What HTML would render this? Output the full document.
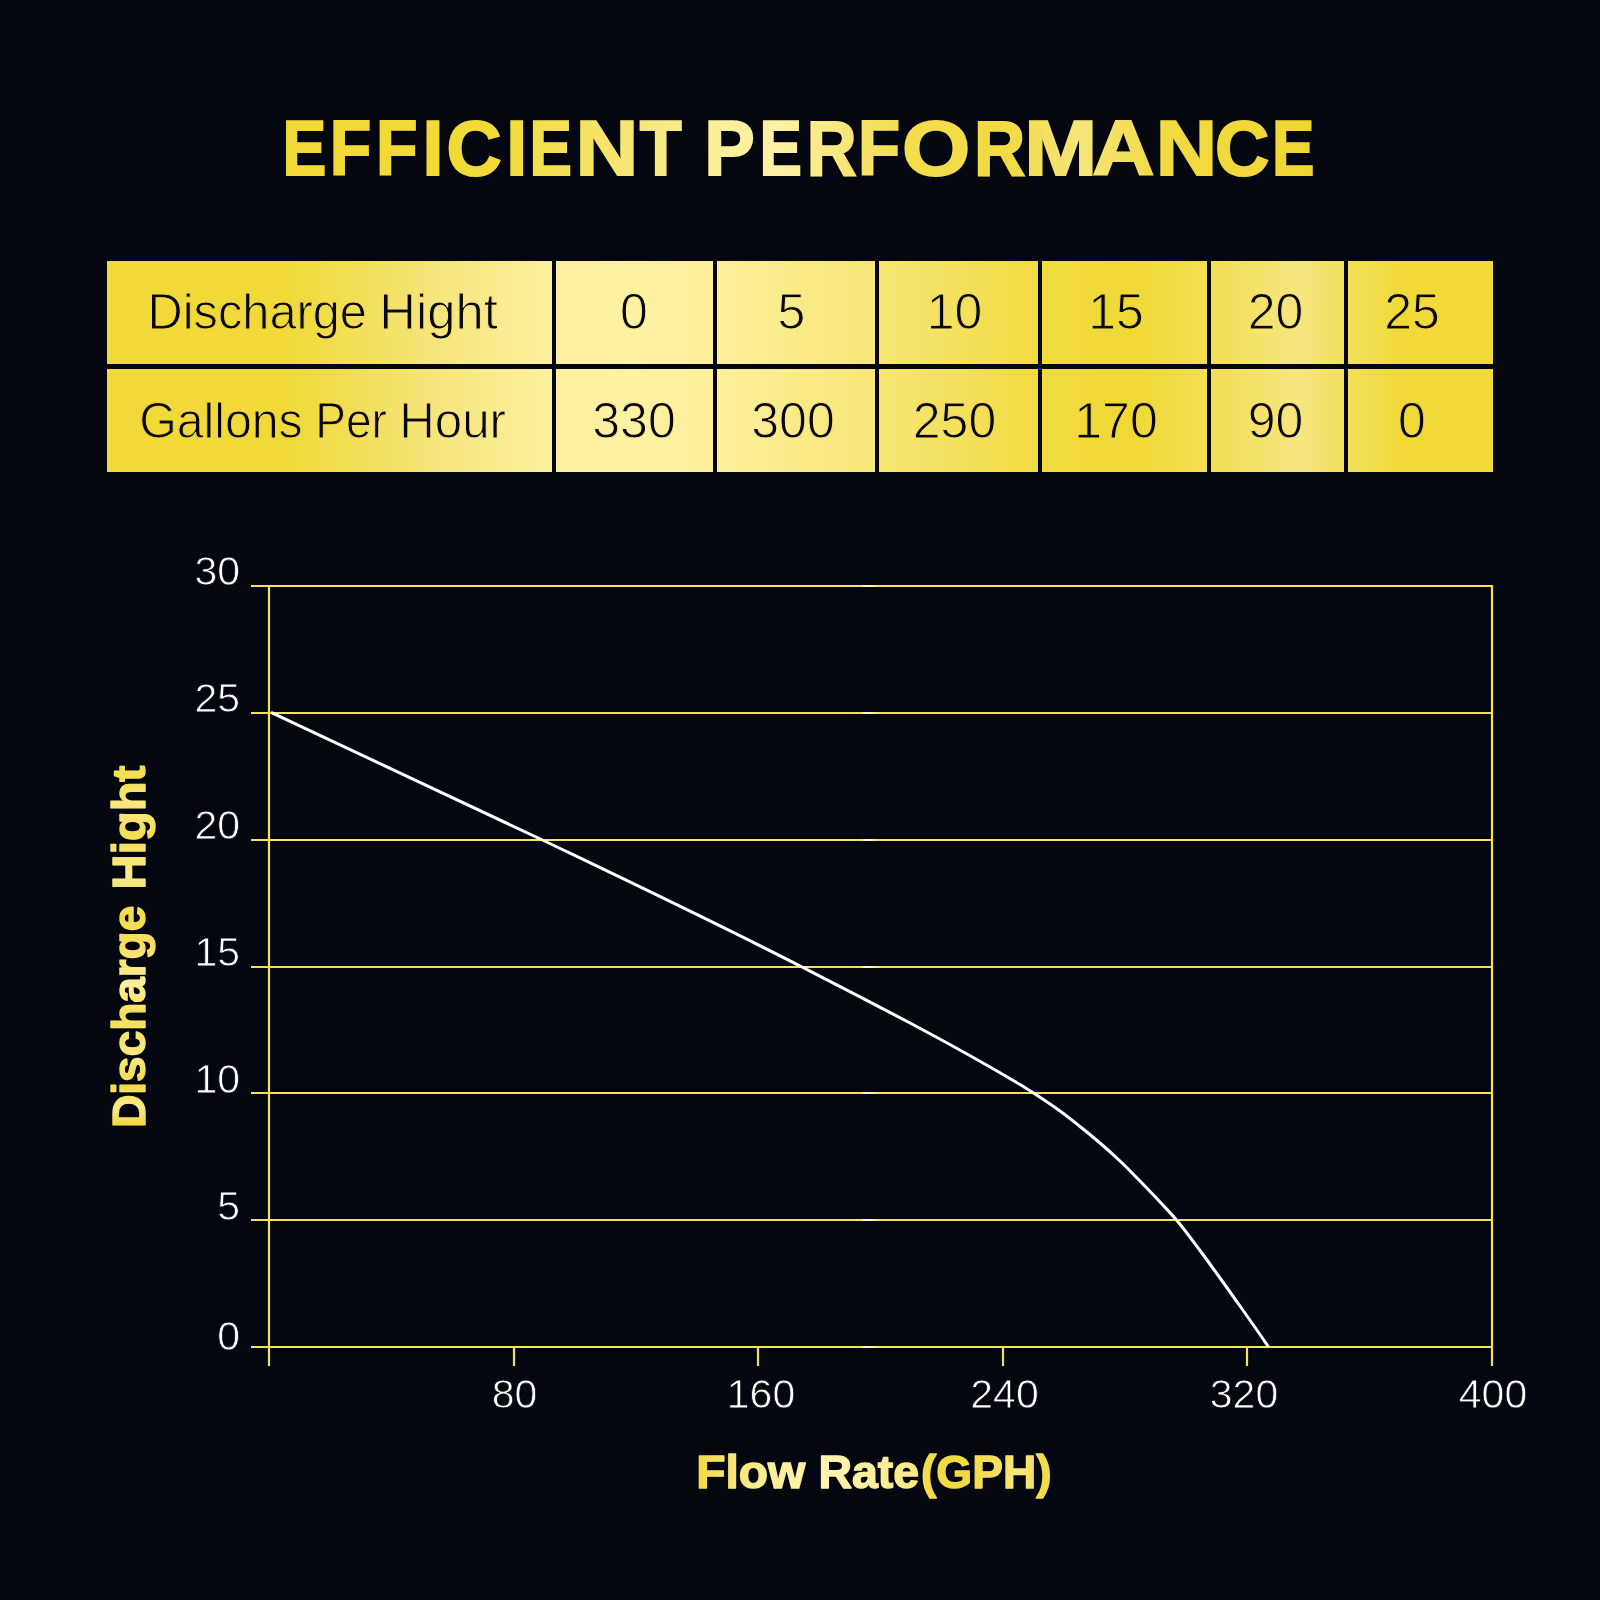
<!DOCTYPE html>
<html lang="en">
<head>
<meta charset="utf-8">
<title>Efficient Performance</title>
<style>
  html, body { margin: 0; padding: 0; background: #04070f; }
  body { width: 1600px; height: 1600px; overflow: hidden; }
  svg { display: block; will-change: transform; }
  text { font-family: "Liberation Sans", sans-serif; }
  .title { font-weight: bold; font-size: 78.5px; stroke-width: 2px; stroke-linejoin: miter; }
  .cell { font-size: 50px; fill: #08080c; text-anchor: middle; stroke: url(#gTable); stroke-width: 1px; }
  .lbl { text-anchor: start; }
  .tick { font-size: 41px; fill: #ffffff; stroke: #04070f; stroke-width: 0.8px; }
  .axis { font-weight: bold; font-size: 46px; stroke-width: 1.4px; stroke-linejoin: round; }
</style>
</head>
<body>
<svg width="1600" height="1600" viewBox="0 0 1600 1600">
  <defs>
    <!-- title gradient -->
    <linearGradient id="gTitle" gradientUnits="userSpaceOnUse" x1="285" y1="0" x2="1314" y2="0">
      <stop offset="0" stop-color="#f1d936"/>
      <stop offset="0.20" stop-color="#f1d936"/>
      <stop offset="0.41" stop-color="#fbee98"/>
      <stop offset="0.48" stop-color="#fdf2a6"/>
      <stop offset="0.60" stop-color="#f3dd4e"/>
      <stop offset="0.70" stop-color="#f2da42"/>
      <stop offset="0.775" stop-color="#f6e57c"/>
      <stop offset="0.85" stop-color="#f2da42"/>
      <stop offset="1" stop-color="#f0d630"/>
    </linearGradient>
    <!-- table gradient -->
    <linearGradient id="gTable" gradientUnits="userSpaceOnUse" x1="107" y1="0" x2="1493" y2="0">
      <stop offset="0" stop-color="#f0d938"/>
      <stop offset="0.13" stop-color="#f0d938"/>
      <stop offset="0.235" stop-color="#f6e57a"/>
      <stop offset="0.32" stop-color="#fcf0a0"/>
      <stop offset="0.385" stop-color="#fdf1a2"/>
      <stop offset="0.445" stop-color="#fcef9a"/>
      <stop offset="0.555" stop-color="#f7e676"/>
      <stop offset="0.62" stop-color="#f4e05a"/>
      <stop offset="0.675" stop-color="#f1da3e"/>
      <stop offset="0.74" stop-color="#f0d835"/>
      <stop offset="0.795" stop-color="#f3de54"/>
      <stop offset="0.86" stop-color="#f6e680"/>
      <stop offset="0.895" stop-color="#f3df5a"/>
      <stop offset="0.935" stop-color="#f0d938"/>
      <stop offset="1" stop-color="#f0d938"/>
    </linearGradient>
    <!-- gridline gradient with tiny highlight -->
    <linearGradient id="gLine" gradientUnits="userSpaceOnUse" x1="251" y1="0" x2="1493" y2="0">
      <stop offset="0" stop-color="#f4e15a"/>
      <stop offset="0.4915" stop-color="#f4e15a"/>
      <stop offset="0.4940" stop-color="#fff8d6"/>
      <stop offset="0.4990" stop-color="#fdf3b8"/>
      <stop offset="0.5060" stop-color="#f4e15a"/>
      <stop offset="1" stop-color="#f4e15a"/>
    </linearGradient>
    <!-- x axis title gradient -->
    <linearGradient id="gFlow" gradientUnits="userSpaceOnUse" x1="698" y1="0" x2="1051" y2="0">
      <stop offset="0" stop-color="#f2da40"/>
      <stop offset="0.09" stop-color="#f6e474"/>
      <stop offset="0.20" stop-color="#fbee98"/>
      <stop offset="0.37" stop-color="#fdf3b0"/>
      <stop offset="0.52" stop-color="#fbee98"/>
      <stop offset="0.615" stop-color="#f9e985"/>
      <stop offset="0.645" stop-color="#f3dc4a"/>
      <stop offset="0.74" stop-color="#f2da40"/>
      <stop offset="0.83" stop-color="#f4df5a"/>
      <stop offset="0.915" stop-color="#f7e77e"/>
      <stop offset="0.975" stop-color="#f2db48"/>
      <stop offset="1" stop-color="#f2db48"/>
    </linearGradient>
    <!-- y axis title gradient (applied in rotated space: along text direction) -->
    <linearGradient id="gDis" gradientUnits="userSpaceOnUse" x1="-180" y1="0" x2="180" y2="0">
      <stop offset="0" stop-color="#f2d93c"/>
      <stop offset="0.055" stop-color="#f9ea88"/>
      <stop offset="0.11" stop-color="#f3dc48"/>
      <stop offset="0.195" stop-color="#f8e884"/>
      <stop offset="0.305" stop-color="#f4df58"/>
      <stop offset="0.39" stop-color="#fbee98"/>
      <stop offset="0.50" stop-color="#f5e064"/>
      <stop offset="0.585" stop-color="#f3dc4a"/>
      <stop offset="0.695" stop-color="#f9ea8a"/>
      <stop offset="0.805" stop-color="#f4de55"/>
      <stop offset="0.89" stop-color="#f8e780"/>
      <stop offset="1" stop-color="#f3dc48"/>
    </linearGradient>
  </defs>

  <rect x="0" y="0" width="1600" height="1600" fill="#04070f"/>

  <!-- TITLE -->
  <text class="title" aria-label="EFFICIENT PERFORMANCE" y="175" fill="url(#gTitle)" stroke="url(#gTitle)"><tspan x="282.4" textLength="43.8" lengthAdjust="spacingAndGlyphs">E</tspan><tspan x="329.8" textLength="41.5" lengthAdjust="spacingAndGlyphs">F</tspan><tspan x="376.0" textLength="41.5" lengthAdjust="spacingAndGlyphs">F</tspan><tspan x="422.6" textLength="20.9" lengthAdjust="spacingAndGlyphs">I</tspan><tspan x="446.6" textLength="55.1" lengthAdjust="spacingAndGlyphs">C</tspan><tspan x="506.3" textLength="20.9" lengthAdjust="spacingAndGlyphs">I</tspan><tspan x="529.5" textLength="42.4" lengthAdjust="spacingAndGlyphs">E</tspan><tspan x="575.6" textLength="62.9" lengthAdjust="spacingAndGlyphs">N</tspan><tspan x="639.8" textLength="41.9" lengthAdjust="spacingAndGlyphs">T</tspan><tspan x="686" textLength="20" lengthAdjust="spacingAndGlyphs"> </tspan><tspan x="704.3" textLength="50.5" lengthAdjust="spacingAndGlyphs">P</tspan><tspan x="759.5" textLength="42.4" lengthAdjust="spacingAndGlyphs">E</tspan><tspan x="806.7" textLength="49.9" lengthAdjust="spacingAndGlyphs">R</tspan><tspan x="857.9" textLength="42.1" lengthAdjust="spacingAndGlyphs">F</tspan><tspan x="902.0" textLength="68.2" lengthAdjust="spacingAndGlyphs">O</tspan><tspan x="974.1" textLength="51.3" lengthAdjust="spacingAndGlyphs">R</tspan><tspan x="1024.3" textLength="73.0" lengthAdjust="spacingAndGlyphs">M</tspan><tspan x="1092.2" textLength="62.2" lengthAdjust="spacingAndGlyphs">A</tspan><tspan x="1155.7" textLength="61.4" lengthAdjust="spacingAndGlyphs">N</tspan><tspan x="1214.9" textLength="54.3" lengthAdjust="spacingAndGlyphs">C</tspan><tspan x="1272.0" textLength="42.4" lengthAdjust="spacingAndGlyphs">E</tspan></text>

  <!-- TABLE -->
  <rect x="107" y="261" width="1386" height="211" fill="url(#gTable)"/>
  <g fill="#04070f">
    <rect x="107" y="364" width="1386" height="5"/>
    <rect x="552" y="261" width="4" height="211"/>
    <rect x="713" y="261" width="4" height="211"/>
    <rect x="875" y="261" width="4" height="211"/>
    <rect x="1038" y="261" width="4" height="211"/>
    <rect x="1207" y="261" width="4" height="211"/>
    <rect x="1344" y="261" width="4" height="211"/>
  </g>
  <g class="cell">
    <text class="lbl" y="329"><tspan x="147.6" textLength="219.3" lengthAdjust="spacingAndGlyphs">Discharge</tspan><tspan> </tspan><tspan x="379.3" textLength="118.5" lengthAdjust="spacingAndGlyphs">Hight</tspan></text>
    <text x="634" y="329">0</text>
    <text x="791.5" y="329">5</text>
    <text x="954.5" y="329">10</text>
    <text x="1116" y="329">15</text>
    <text x="1275.5" y="329">20</text>
    <text x="1412" y="329">25</text>
    <text class="lbl" y="438"><tspan x="139.2" textLength="163.5" lengthAdjust="spacingAndGlyphs">Gallons</tspan><tspan> </tspan><tspan x="315.2" textLength="71.6" lengthAdjust="spacingAndGlyphs">Per</tspan><tspan> </tspan><tspan x="399.2" textLength="106.8" lengthAdjust="spacingAndGlyphs">Hour</tspan></text>
    <text x="634" y="438">330</text>
    <text x="793" y="438">300</text>
    <text x="954.5" y="438">250</text>
    <text x="1116" y="438">170</text>
    <text x="1275.5" y="438">90</text>
    <text x="1412" y="438">0</text>
  </g>

  <!-- CHART GRID -->
  <g stroke="url(#gLine)" stroke-width="2.2" fill="none">
    <line x1="251" y1="586" x2="1493" y2="586"/>
    <line x1="251" y1="713" x2="1493" y2="713"/>
    <line x1="251" y1="840" x2="1493" y2="840"/>
    <line x1="251" y1="967" x2="1493" y2="967"/>
    <line x1="251" y1="1093" x2="1493" y2="1093"/>
    <line x1="251" y1="1220" x2="1493" y2="1220"/>
    <line x1="251" y1="1347" x2="1493" y2="1347"/>
  </g>
  <g stroke="#f4e15a" stroke-width="2.2" fill="none">
    <line x1="269" y1="585" x2="269" y2="1366"/>
    <line x1="1492" y1="585" x2="1492" y2="1366"/>
    <line x1="514" y1="1347" x2="514" y2="1366"/>
    <line x1="758" y1="1347" x2="758" y2="1366"/>
    <line x1="1003" y1="1347" x2="1003" y2="1366"/>
    <line x1="1247" y1="1347" x2="1247" y2="1366"/>
  </g>

  <!-- CURVE -->
  <path id="curve" fill="none" stroke="#ffffff" stroke-width="3" stroke-linecap="butt" stroke-linejoin="round"
        d="M271.0,712.4 C361.5,754.0 452.0,796.6 542.5,840.0 C629.0,881.5 715.5,922.6 802.0,967.0 C874.7,1004.3 947.3,1041.3 1020.0,1084.5 C1024.5,1087.2 1029.0,1090.1 1033.5,1093.0 C1042.3,1098.7 1051.2,1104.6 1060.0,1111.0 C1066.7,1115.8 1073.3,1121.2 1080.0,1126.5 C1086.7,1131.8 1093.3,1137.3 1100.0,1143.0 C1106.7,1148.7 1113.3,1154.7 1120.0,1161.0 C1126.7,1167.3 1133.3,1174.2 1140.0,1181.0 C1146.7,1187.8 1153.3,1194.9 1160.0,1202.0 C1165.5,1207.9 1171.0,1213.5 1176.5,1220.0 C1184.3,1229.2 1192.2,1240.0 1200.0,1250.5 C1206.7,1259.4 1213.3,1268.8 1220.0,1278.0 C1226.7,1287.2 1233.3,1296.6 1240.0,1306.0 C1246.7,1315.4 1253.3,1324.9 1260.0,1334.5 C1262.9,1338.6 1265.7,1342.8 1268.6,1347.0"/>

  <!-- Y TICK LABELS -->
  <g class="tick" text-anchor="end">
    <text x="240" y="585">30</text>
    <text x="240" y="712">25</text>
    <text x="240" y="839">20</text>
    <text x="240" y="966">15</text>
    <text x="240" y="1092.5">10</text>
    <text x="240" y="1219.5">5</text>
    <text x="240" y="1349.5">0</text>
  </g>
  <!-- X TICK LABELS -->
  <g class="tick" text-anchor="middle">
    <text x="514.5" y="1408">80</text>
    <text x="761" y="1408">160</text>
    <text x="1004.5" y="1408">240</text>
    <text x="1244" y="1408">320</text>
    <text x="1493" y="1408">400</text>
  </g>

  <!-- AXIS TITLES -->
  <text class="axis" y="1487.5" fill="url(#gFlow)" stroke="url(#gFlow)"><tspan x="696.2" textLength="109.2" lengthAdjust="spacingAndGlyphs">Flow</tspan><tspan> </tspan><tspan x="818.4" textLength="100.8" lengthAdjust="spacingAndGlyphs">Rate</tspan><tspan x="921.0" textLength="130.5" lengthAdjust="spacingAndGlyphs">(GPH)</tspan></text>
  <g transform="translate(145.9,945.5) rotate(-90)">
    <text class="axis" y="-0.7" fill="url(#gDis)" stroke="url(#gDis)"><tspan x="-182.3" textLength="222.0" lengthAdjust="spacingAndGlyphs">Discharge</tspan><tspan> </tspan><tspan x="56.0" textLength="124.0" lengthAdjust="spacingAndGlyphs">Hight</tspan></text>
  </g>
</svg>
</body>
</html>
